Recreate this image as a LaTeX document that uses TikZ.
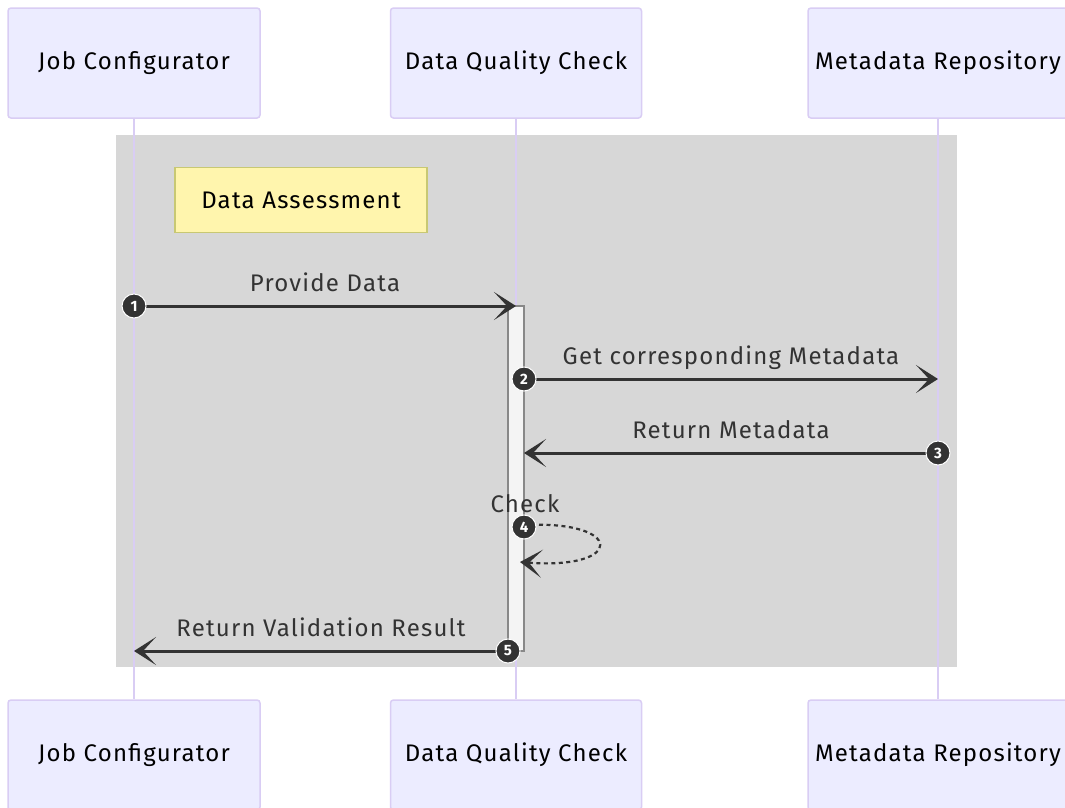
\documentclass[tikz,border=0pt]{standalone}
\usepackage{fontspec}
\setmainfont[LetterSpace=5]{Fira Sans}
\usetikzlibrary{arrows.meta}
\definecolor{actorfill}{HTML}{ECECFF}
\definecolor{actorline}{HTML}{D9CDF4}
\definecolor{loopbg}{HTML}{D7D7D7}
\definecolor{notefill}{HTML}{FFF5AD}
\definecolor{noteline}{HTML}{C8C873}
\definecolor{msgline}{HTML}{333333}
\definecolor{actfill}{HTML}{F4F4F4}
\definecolor{actline}{HTML}{888888}
\tikzset{
  actor/.style={draw=actorline, fill=actorfill, line width=1.5pt, rounded corners=3pt,
    minimum height=110pt, font=\fontsize{24}{27}\selectfont, text=black},
  lifeline/.style={draw=actorline, line width=1.8pt},
  notebox/.style={draw=noteline, fill=notefill, line width=1.8pt,
    minimum width=252pt, minimum height=65pt, font=\fontsize{24}{27}\selectfont},
  actbox/.style={draw=actline, fill=actfill, line width=2pt, minimum width=16pt,
    inner sep=0pt},
  msg/.style={draw=msgline, line width=3pt,
    -{Stealth[length=22pt,width=28pt,inset=13pt]}},
  lbl/.style={font=\fontsize{24}{27}\selectfont, text=msgline, anchor=base, inner sep=0pt},
  seqnum/.style={circle, fill=msgline, draw=white, line width=1pt, minimum size=24pt,
    inner sep=0pt, text=white, font=\bfseries\fontsize{15}{15}\selectfont},
}
\begin{document}
\begin{tikzpicture}[x=1pt,y=-1pt]
\useasboundingbox (0,0) rectangle (1065,807);
\fill[white] (0,0) rectangle (1065,807);

% loop region
\fill[loopbg] (116,135) rectangle (957,667);

% participants
\node[actor, minimum width=252pt] (jcT) at (134,63) {Job Configurator};
\node[actor, minimum width=251pt] (dqT) at (516,63) {Data Quality Check};
\node[actor, minimum width=260pt] (mrT) at (938,63) {Metadata Repository};
\node[actor, minimum width=252pt] (jcB) at (134,755) {Job Configurator};
\node[actor, minimum width=251pt] (dqB) at (516,755) {Data Quality Check};
\node[actor, minimum width=260pt] (mrB) at (938,755) {Metadata Repository};

% lifelines
\draw[lifeline] (jcT.south) -- (jcB.north);
\draw[lifeline] (dqT.south) -- (dqB.north);
\draw[lifeline] (mrT.south) -- (mrB.north);

% note
\node[notebox] (note) at (301,200) {Data Assessment};

% activation bar
\node[actbox, minimum height=345pt] (act) at (516,478.5) {};

% anchor points of the messages
\coordinate (jc1) at (134,306);
\coordinate (dq1) at (516,306);
\coordinate (dq2) at (524,379);
\coordinate (mr2) at (938,379);
\coordinate (mr3) at (938,453);
\coordinate (dq3) at (524,453);
\coordinate (dq4a) at (524,525);
\coordinate (dq4b) at (520,562);
\coordinate (dq5) at (508,651);
\coordinate (jc5) at (134,651);

% messages
\draw[msg] (jc1) -- node[lbl, midway, yshift=15pt] {Provide Data} (dq1);
\draw[msg] (dq2) -- node[lbl, midway, yshift=15pt] {Get corresponding Metadata} (mr2);
\draw[msg] (mr3) -- node[lbl, midway, yshift=15pt] {Return Metadata} (dq3);
\draw[msg, dashed, dash pattern=on 4pt off 3.5pt, line width=2.2pt]
  (dq4a) .. controls (625,520) and (625,570) .. (dq4b);
\node[lbl] (chk) at (525,512) {Check};
\draw[msg] (dq5) -- node[lbl, midway, yshift=15pt] {Return Validation Result} (jc5);

% sequence numbers
\node[seqnum] (n1) at (jc1) {1};
\node[seqnum] (n2) at (dq2) {2};
\node[seqnum] (n3) at (mr3) {3};
\node[seqnum] (n4) at (524,527) {4};
\node[seqnum] (n5) at (dq5) {5};
\end{tikzpicture}
\end{document}
